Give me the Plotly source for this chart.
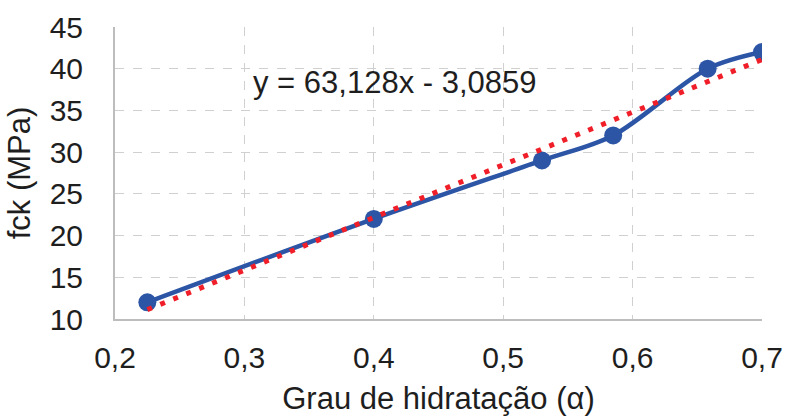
import numpy as np
import plotly.graph_objects as go

# Measured compressive strength vs. degree of hydration
alpha = [0.225, 0.40, 0.53, 0.585, 0.658, 0.70]
fck = [12, 22, 29, 32, 40, 42]

# Linear trendline coefficients (y = slope*x + intercept)
slope = 63.128
intercept = -3.0859

x_ticks = [0.2, 0.3, 0.4, 0.5, 0.6, 0.7]
x_tick_text = ["0,2", "0,3", "0,4", "0,5", "0,6", "0,7"]
y_ticks = [10, 15, 20, 25, 30, 35, 40, 45]

BLUE = "#2C55A6"
RED = "#F01E28"
FONT = "Liberation Sans, Arial, sans-serif"
TXT = "#1e1e1e"

trend_x = np.array([min(alpha), max(alpha)])
trend_y = slope * trend_x + intercept

fig = go.Figure()

fig.add_trace(go.Scatter(
    x=alpha, y=fck, mode="lines+markers",
    line=dict(color=BLUE, width=4.5, shape="spline", smoothing=0.9),
    marker=dict(color=BLUE, size=18),
    showlegend=False, hoverinfo="skip",
))

fig.add_trace(go.Scatter(
    x=trend_x, y=trend_y, mode="lines",
    line=dict(color=RED, width=5, dash="5px,9px"),
    showlegend=False, hoverinfo="skip",
))

fig.add_annotation(
    x=0.305, y=38.3, xref="x", yref="y",
    text="y = 63,128x - 3,0859", showarrow=False,
    xanchor="left", yanchor="middle",
    font=dict(family=FONT, size=31, color=TXT),
)

grid = dict(showgrid=True, gridcolor="#D0D0D0", gridwidth=1, griddash="dash")

fig.update_xaxes(
    range=[0.2, 0.7], tickvals=x_ticks, ticktext=x_tick_text,
    showline=True, linecolor="#BDBDBD", linewidth=2, zeroline=False,
    ticks="", ticklabelstandoff=11, automargin=False,
    tickfont=dict(family=FONT, size=30, color=TXT),
    title=dict(text="Grau de hidratação (α)", standoff=28,
               font=dict(family=FONT, size=31, color=TXT)),
    **grid,
)
fig.update_yaxes(
    range=[10, 45], tickvals=y_ticks,
    showline=True, linecolor="#BDBDBD", linewidth=2, zeroline=False,
    ticks="", ticklabelstandoff=24, automargin=False,
    tickfont=dict(family=FONT, size=30, color=TXT),
    title=dict(text="fck (MPa)", standoff=10,
               font=dict(family=FONT, size=31, color=TXT)),
    **grid,
)

fig.update_layout(
    width=785, height=416,
    margin=dict(l=115, r=23, t=27, b=97),
    paper_bgcolor="white", plot_bgcolor="white",
)

fig.write_html("out.html")
